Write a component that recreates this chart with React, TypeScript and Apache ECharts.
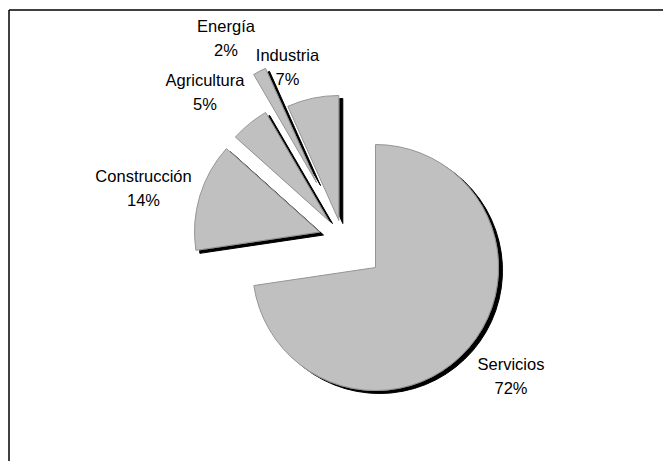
import React, { useEffect, useRef } from "react";
import * as echarts from "echarts";

// Data (shares of each sector, clockwise from 12 o'clock)
const categories = ["Servicios", "Construcción", "Agricultura", "Energía", "Industria"];
const values = [72.8, 14.0, 5.0, 1.7, 6.7];

// Layout: each slice is exploded by its own amount (pixel centre of its apex)
const SLICE_CENTERS: [number, number][] = [
  [375.5, 267.5],
  [319.5, 232],
  [328.5, 220.5],
  [316.5, 182.5],
  [338.8, 220.5],
];
const SLICE_RADII = [123, 125, 125, 125, 125];
const LABEL_POS: [number, number][] = [
  [511, 375.5],
  [143.5, 187.5],
  [205, 91.5],
  [226, 38],
  [287.5, 67],
];

const FONT = "'Liberation Sans', Arial, Helvetica, sans-serif";

export default function App() {
  const ref = useRef<HTMLDivElement>(null);

  useEffect(() => {
    document.body.style.margin = "0";
    const chart = echarts.init(ref.current as HTMLDivElement, null, { renderer: "svg" });
    const data = categories.map((name, i) => ({ name, value: values[i] }));

    const series = categories.map((_, k) => ({
      type: "pie",
      center: SLICE_CENTERS[k],
      radius: [0, SLICE_RADII[k]],
      startAngle: 90,
      clockwise: true,
      percentPrecision: 0,
      silent: true,
      avoidLabelOverlap: false,
      emphasis: { disabled: true },
      labelLine: { show: false },
      label: {
        show: false,
        position: "outside",
        formatter: "{b}\n{d}%",
        fontFamily: FONT,
        fontSize: 16.5,
        lineHeight: 24,
        color: "#000",
      },
      labelLayout: (p: any) =>
        p.dataIndex === k
          ? { x: LABEL_POS[k][0], y: LABEL_POS[k][1], align: "center", verticalAlign: "middle" }
          : {},
      data: data.map((d, i) =>
        i === k
          ? {
              ...d,
              itemStyle: {
                color: "#c0c0c0",
                borderColor: "#959595",
                borderWidth: 1,
                shadowColor: "#000",
                shadowBlur: 0,
                shadowOffsetX: 4,
                shadowOffsetY: 3,
              },
              label: { show: true },
            }
          : {
              ...d,
              itemStyle: { color: "rgba(0,0,0,0)", borderWidth: 0 },
              label: { show: false },
            }
      ),
    }));

    chart.setOption({
      animation: false,
      backgroundColor: "#fff",
      graphic: [
        {
          type: "line",
          shape: { x1: 9, y1: 10, x2: 663, y2: 10 },
          style: { stroke: "#000", lineWidth: 1.5 },
          silent: true,
        },
        {
          type: "line",
          shape: { x1: 9, y1: 10, x2: 9, y2: 461 },
          style: { stroke: "#000", lineWidth: 1.5 },
          silent: true,
        },
      ],
      series,
    } as any);

    return () => chart.dispose();
  }, []);

  return <div ref={ref} style={{ width: 663, height: 461 }} />;
}
